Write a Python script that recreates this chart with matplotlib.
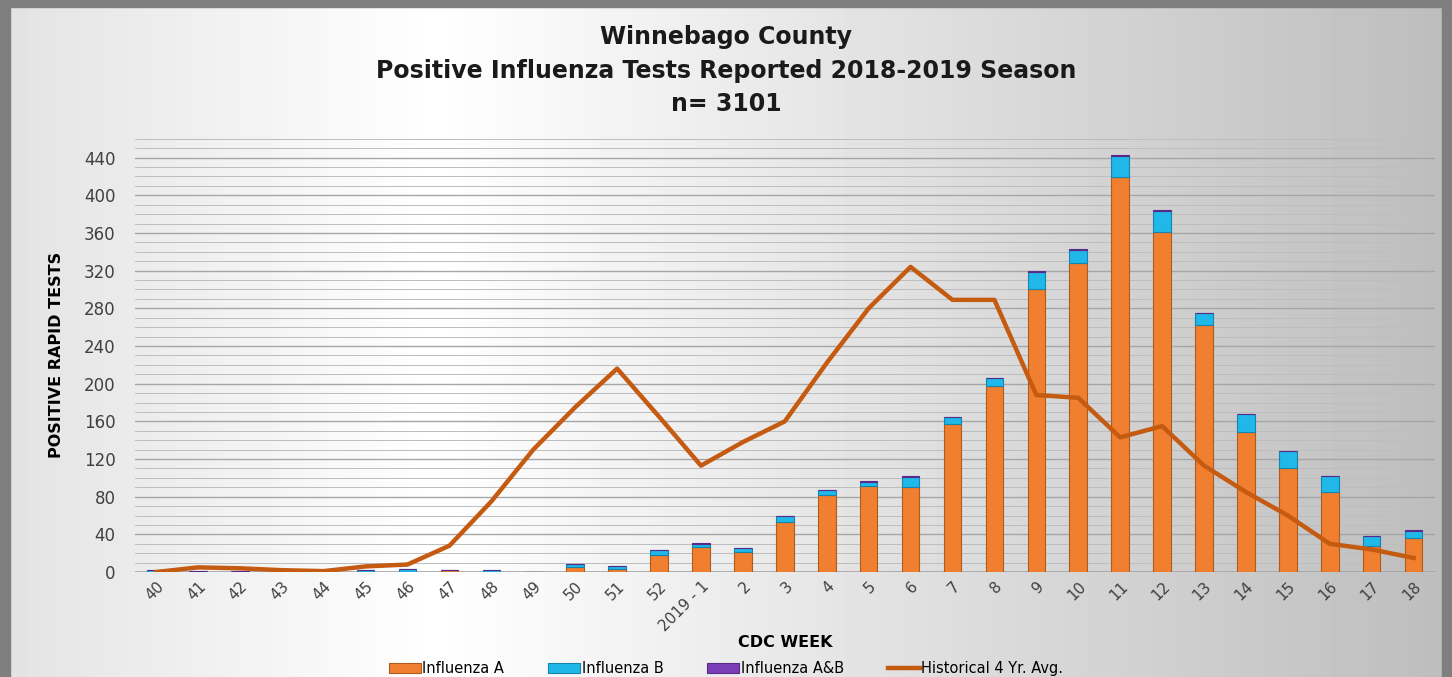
import numpy as np
import matplotlib.pyplot as plt
from matplotlib.ticker import MultipleLocator

weeks = ['40', '41', '42', '43', '44', '45', '46', '47', '48', '49', '50', '51', '52',
         '2019 - 1', '2', '3', '4', '5', '6', '7', '8', '9', '10', '11', '12', '13',
         '14', '15', '16', '17', '18']
flu_a = [0, 0, 0, 0, 0, 0, 0, 2, 0, 0, 5, 3, 18, 27, 21, 53, 82, 91, 90, 157, 198,
         300, 328, 419, 361, 262, 149, 111, 85, 28, 36]
flu_b = [2, 1, 1, 0, 0, 2, 3, 0, 2, 0, 4, 3, 5, 3, 5, 7, 5, 5, 11, 8, 8,
         19, 14, 23, 22, 13, 19, 18, 17, 10, 8]
flu_ab = [0, 0, 0, 0, 0, 0, 0, 0, 0, 0, 0, 0, 0, 1, 0, 0, 0, 1, 1, 0, 0,
          1, 1, 1, 1, 0, 0, 0, 0, 0, 1]
hist_avg = [0, 5, 4, 2, 1, 6, 8, 28, 75, 130, 175, 216, 165, 113, 138, 160, 222, 280,
            324, 289, 289, 188, 185, 143, 155, 113, 85, 60, 30, 24, 15]

fig = plt.figure(figsize=(14.52, 6.77), dpi=100)
fig.patch.set_facecolor('#d4d4d4')

# soft gray gradient behind everything, lightest left of centre
bg = fig.add_axes([0, 0, 1, 1], zorder=-10)
t = np.linspace(0, 1, 256)
grad = 1 - 0.26 * np.abs(t - 0.3) / 0.7
bg.imshow(np.vstack([grad, grad]), aspect='auto', cmap='gray', vmin=0, vmax=1,
          extent=[0, 1, 0, 1])
bg.set_axis_off()
# outer frame
for x0, y0, w, h in [(0, 0, 0.007, 1), (0.993, 0, 0.007, 1), (0, 0.99, 1, 0.01)]:
    fig.patches.append(plt.Rectangle((x0, y0), w, h, transform=fig.transFigure,
                                     color='#7f7f7f', zorder=5))

ax = fig.add_axes([0.093, 0.155, 0.895, 0.64])
ax.set_facecolor('none')
x = np.arange(len(weeks))
a = np.array(flu_a)
b = np.array(flu_b)
ab = np.array(flu_ab)
w = 0.42
h1 = ax.bar(x, a, w, color='#f08030', edgecolor='#b05a1c', linewidth=0.8, label='Influenza A', zorder=3)
h2 = ax.bar(x, b, w, bottom=a, color='#1fb8e8', edgecolor='#1585b0', linewidth=0.8, label='Influenza B', zorder=3)
h3 = ax.bar(x, ab, w, bottom=a + b, color='#7a3fb8', edgecolor='#5a2a8a', linewidth=0.8, label='Influenza A&B', zorder=3)
h4, = ax.plot(x, hist_avg, color='#c55a11', linewidth=3.2, label='Historical 4 Yr. Avg.', zorder=4)

ax.set_xlim(-0.5, len(weeks) - 0.5)
ax.set_ylim(0, 460)
ax.yaxis.set_major_locator(MultipleLocator(40))
ax.yaxis.set_minor_locator(MultipleLocator(10))
ax.grid(axis='y', which='major', color='#a6a6a6', linewidth=1.0, zorder=0)
ax.grid(axis='y', which='minor', color='#bdbdbd', linewidth=0.7, zorder=0)
ax.set_xticks(x)
ax.set_xticklabels(weeks, rotation=45, ha='right', rotation_mode='anchor',
                   fontsize=11, color='#404040')
ax.tick_params(axis='y', labelsize=12, labelcolor='#404040', length=0, pad=14)
ax.tick_params(axis='y', which='minor', length=0)
ax.tick_params(axis='x', length=0, pad=5)
for s in ax.spines.values():
    s.set_visible(False)
ax.axhline(0, color='#a6a6a6', linewidth=1.2, zorder=1)

ax.set_ylabel('POSITIVE RAPID TESTS', fontsize=11.5, fontweight='bold', labelpad=14)
ax.set_xlabel('CDC WEEK', fontsize=11.5, fontweight='bold', labelpad=0)

fig.text(0.5, 0.945, 'Winnebago County', ha='center', va='center',
         fontsize=17, fontweight='bold', color='#1a1a1a')
fig.text(0.5, 0.895, 'Positive Influenza Tests Reported 2018-2019 Season', ha='center',
         va='center', fontsize=17, fontweight='bold', color='#1a1a1a')
fig.text(0.5, 0.847, 'n= 3101', ha='center', va='center',
         fontsize=17, fontweight='bold', color='#1a1a1a')

fig.legend(handles=[h1, h2, h3, h4], loc='lower center', bbox_to_anchor=(0.5, -0.018),
           ncol=4, frameon=False, fontsize=10.5, handlelength=2.2, handleheight=0.6,
           columnspacing=3.0, handletextpad=0.1)

fig.savefig('out.png', dpi=100, facecolor=fig.get_facecolor())
